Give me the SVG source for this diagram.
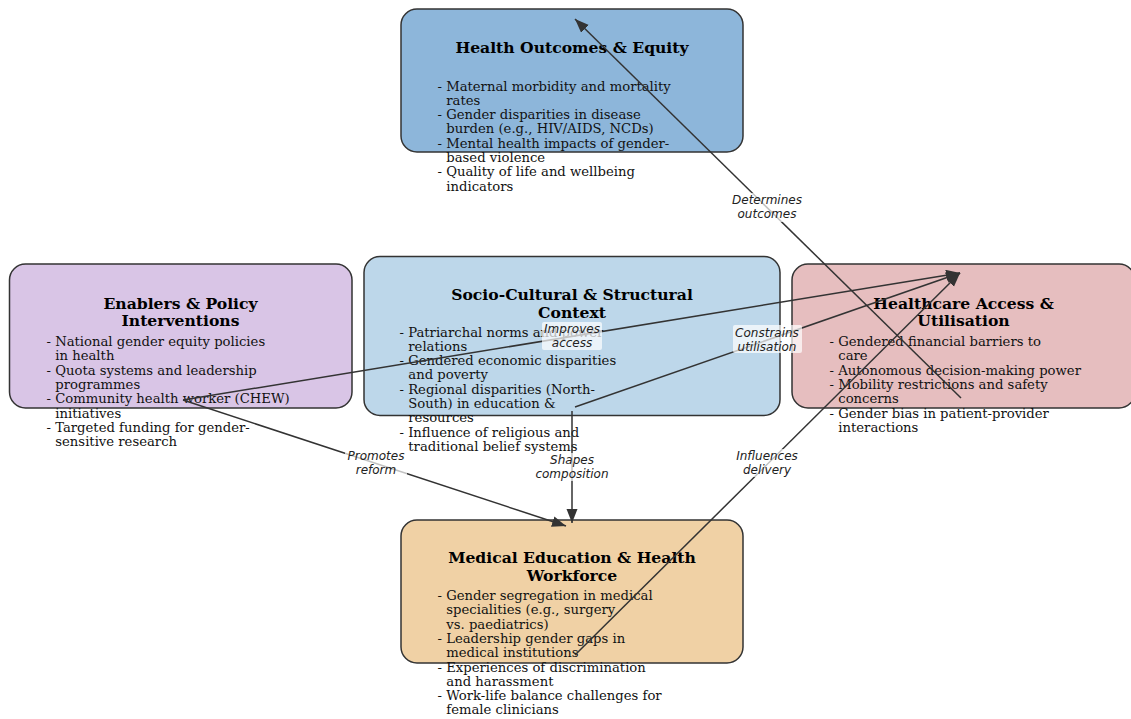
<svg xmlns="http://www.w3.org/2000/svg" width="1131" height="719" viewBox="0 0 1131 719">
<style>
.box{stroke:#333;stroke-width:1.5}
.title{font-family:"DejaVu Serif","Liberation Serif",serif;font-weight:bold;font-size:15.6px;fill:#000;text-anchor:middle}
.body{font-family:"DejaVu Serif","Liberation Serif",serif;font-size:13.2px;fill:#111}
.edge{stroke:#333;stroke-width:1.5;fill:none;marker-end:url(#ah)}
.lbg{fill:#fff;fill-opacity:0.7}
.lbl{font-family:"DejaVu Sans","Liberation Sans",sans-serif;font-style:italic;font-size:12px;fill:#222;text-anchor:middle}
</style>
<defs>
<marker id="ah" markerUnits="userSpaceOnUse" markerWidth="16" markerHeight="12" refX="14" refY="5.5" orient="auto">
<path d="M0,0 L14,5.5 L0,11 z" fill="#333"/>
</marker>
</defs>
<rect width="1131" height="719" fill="#fff"/>

<g id="node-outcomes">
<rect class="box" x="401" y="9" width="342" height="143" rx="16" fill="#8DB6DA"/>
<text class="title" x="572" y="53">Health Outcomes &amp; Equity</text>
<text class="body">
<tspan x="437.5" y="90.5">- Maternal morbidity and mortality</tspan>
<tspan x="446.3" y="104.8">rates</tspan>
<tspan x="437.5" y="119.1">- Gender disparities in disease</tspan>
<tspan x="446.3" y="133.4">burden (e.g., HIV/AIDS, NCDs)</tspan>
<tspan x="437.5" y="147.7">- Mental health impacts of gender-</tspan>
<tspan x="446.3" y="162">based violence</tspan>
<tspan x="437.5" y="176.3">- Quality of life and wellbeing</tspan>
<tspan x="446.3" y="190.6">indicators</tspan>
</text>
</g>

<g id="node-enablers">
<rect class="box" x="9.5" y="264" width="342.5" height="144" rx="16" fill="#D9C5E6"/>
<text class="title" x="180.5" y="308.5">Enablers &amp; Policy</text>
<text class="title" x="180.5" y="326">Interventions</text>
<text class="body">
<tspan x="46.5" y="346">- National gender equity policies</tspan>
<tspan x="55.3" y="360.3">in health</tspan>
<tspan x="46.5" y="374.6">- Quota systems and leadership</tspan>
<tspan x="55.3" y="388.9">programmes</tspan>
<tspan x="46.5" y="403.2">- Community health worker (CHEW)</tspan>
<tspan x="55.3" y="417.5">initiatives</tspan>
<tspan x="46.5" y="431.8">- Targeted funding for gender-</tspan>
<tspan x="55.3" y="446.1">sensitive research</tspan>
</text>
</g>

<g id="node-context">
<rect class="box" x="364" y="256.5" width="416" height="159" rx="16" fill="#BDD7EA"/>
<text class="title" x="572" y="300">Socio-Cultural &amp; Structural</text>
<text class="title" x="572" y="317.5">Context</text>
<text class="body">
<tspan x="399.5" y="336.5">- Patriarchal norms and power</tspan>
<tspan x="408.3" y="350.8">relations</tspan>
<tspan x="399.5" y="365.1">- Gendered economic disparities</tspan>
<tspan x="408.3" y="379.4">and poverty</tspan>
<tspan x="399.5" y="393.7">- Regional disparities (North-</tspan>
<tspan x="408.3" y="408">South) in education &amp;</tspan>
<tspan x="408.3" y="422.3">resources</tspan>
<tspan x="399.5" y="436.6">- Influence of religious and</tspan>
<tspan x="408.3" y="450.9">traditional belief systems</tspan>
</text>
</g>

<g id="node-access">
<rect class="box" x="792" y="264" width="343" height="144" rx="16" fill="#E6BEBF"/>
<text class="title" x="963.5" y="308.5">Healthcare Access &amp;</text>
<text class="title" x="963.5" y="326">Utilisation</text>
<text class="body">
<tspan x="829.5" y="346">- Gendered financial barriers to</tspan>
<tspan x="838.3" y="360.3">care</tspan>
<tspan x="829.5" y="374.6">- Autonomous decision-making power</tspan>
<tspan x="829.5" y="388.9">- Mobility restrictions and safety</tspan>
<tspan x="838.3" y="403.2">concerns</tspan>
<tspan x="829.5" y="417.5">- Gender bias in patient-provider</tspan>
<tspan x="838.3" y="431.8">interactions</tspan>
</text>
</g>

<g id="node-workforce">
<rect class="box" x="401" y="520" width="342" height="143" rx="16" fill="#F0D1A5"/>
<text class="title" x="572" y="563">Medical Education &amp; Health</text>
<text class="title" x="572" y="580.5">Workforce</text>
<text class="body">
<tspan x="437.5" y="600">- Gender segregation in medical</tspan>
<tspan x="446.3" y="614.3">specialities (e.g., surgery</tspan>
<tspan x="446.3" y="628.6">vs. paediatrics)</tspan>
<tspan x="437.5" y="642.9">- Leadership gender gaps in</tspan>
<tspan x="446.3" y="657.2">medical institutions</tspan>
<tspan x="437.5" y="671.5">- Experiences of discrimination</tspan>
<tspan x="446.3" y="685.8">and harassment</tspan>
<tspan x="437.5" y="700.1">- Work-life balance challenges for</tspan>
<tspan x="446.3" y="714.4">female clinicians</tspan>
</text>
</g>

<g id="connectors">
<line class="edge" x1="961" y1="398" x2="575" y2="19"/>
<line class="edge" x1="183" y1="400" x2="960" y2="273"/>
<line class="edge" x1="575" y1="407" x2="960" y2="273"/>
<line class="edge" x1="183" y1="400" x2="566" y2="526"/>
<line class="edge" x1="572" y1="411" x2="572" y2="523"/>
<line class="edge" x1="575" y1="655" x2="960" y2="273"/>

<rect class="lbg" x="731" y="193" width="72" height="29" rx="2"/>
<text class="lbl" x="767" y="204">Determines</text>
<text class="lbl" x="767" y="218">outcomes</text>

<rect class="lbg" x="542" y="322" width="60" height="28" rx="2"/>
<text class="lbl" x="572" y="333">Improves</text>
<text class="lbl" x="572" y="347">access</text>

<rect class="lbg" x="733" y="325" width="69" height="28" rx="2"/>
<text class="lbl" x="767" y="337">Constrains</text>
<text class="lbl" x="767" y="351">utilisation</text>

<rect class="lbg" x="345" y="449" width="62" height="28" rx="2"/>
<text class="lbl" x="376" y="460">Promotes</text>
<text class="lbl" x="376" y="474">reform</text>

<rect class="lbg" x="533" y="453" width="78" height="28" rx="2"/>
<text class="lbl" x="572" y="464">Shapes</text>
<text class="lbl" x="572" y="478">composition</text>

<rect class="lbg" x="734" y="449" width="66" height="28" rx="2"/>
<text class="lbl" x="767" y="460">Influences</text>
<text class="lbl" x="767" y="474">delivery</text>
</g>
</svg>
